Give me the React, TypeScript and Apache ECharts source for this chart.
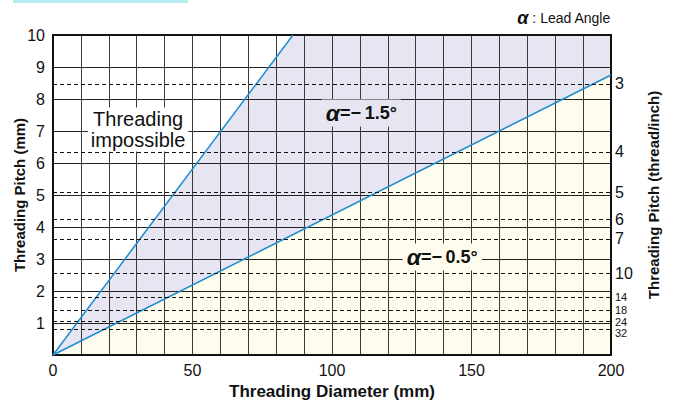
import React, { useEffect, useRef } from "react";
import * as echarts from "echarts";

// Boundary lines (diameter mm, pitch mm)
const steepLine: [number, number][] = [[0, 0], [86, 10]]; // α = -1.5° limit
const shallowLine: [number, number][] = [[0, 0], [200, 8.75]]; // α = -0.5° limit
const possibleRegionTop: [number, number][] = [[0, 0], [86, 10], [200, 10]];

// Right axis: threads per inch
const tpiLabels = [3, 4, 5, 6, 7, 10, 14, 18, 24, 32];
const tpiPitchMm = tpiLabels.map((n) => 25.4 / n);

const xTickLabels = [0, 50, 100, 150, 200];
const yTickLabels = [1, 2, 3, 4, 5, 6, 7, 8, 9, 10];

// annotation anchors (data coordinates)
const annImpossible: [number, number] = [30.5, 7.05];
const annAlpha15: [number, number] = [110.5, 7.56];
const annAlpha05: [number, number] = [139.5, 3.06];

const FONT = "'Liberation Sans', Arial, sans-serif";
const LAVENDER = "#e7e5f1";
const CREAM = "#fefcec";
const BLUE = "#1a8cd0";

export default function App() {
  const ref = useRef<HTMLDivElement>(null);
  useEffect(() => {
    if (!ref.current) return;
    const chart = echarts.init(ref.current, undefined, { renderer: "svg" });
    const axisBase = {
      type: "value" as const,
      min: 0,
      z: 3,
    };
    const alphaRich = {
      a: { fontSize: 23, fontStyle: "italic", fontWeight: "bold", color: "#111", fontFamily: FONT },
      t: { fontSize: 18, fontWeight: "bold", color: "#111", fontFamily: FONT },
    };
    chart.setOption({
      animation: false,
      textStyle: { fontFamily: FONT },
      grid: {
        left: 53,
        right: 62,
        top: 35,
        bottom: 48,
        containLabel: false,
        outerBoundsMode: "none",
      },
      graphic: [
        {
          type: "rect",
          shape: { x: 13, y: 0, width: 175, height: 3 },
          style: { fill: "#b4ecef" },
        },
        {
          type: "text",
          right: 62,
          top: 9,
          style: {
            text: "{a|α}{b| : Lead Angle}",
            fill: "#111",
            rich: {
              a: { fontSize: 18, fontStyle: "italic", fontWeight: "bold", fontFamily: FONT, fill: "#111" },
              b: { fontSize: 14, fontFamily: FONT, fill: "#111" },
            },
          },
        },
      ],
      xAxis: [
        {
          ...axisBase,
          max: 200,
          interval: 10,
          position: "bottom",
          name: "Threading Diameter (mm)",
          nameLocation: "middle",
          nameGap: 27,
          nameTextStyle: { fontSize: 17, fontWeight: "bold", color: "#111", fontFamily: FONT },
          axisLine: { show: true, lineStyle: { color: "#111", width: 2 } },
          axisTick: { show: false },
          axisLabel: {
            margin: 7,
            fontSize: 16,
            color: "#111",
            fontFamily: FONT,
            formatter: (v: number) => (xTickLabels.includes(v) ? String(v) : ""),
          },
          splitLine: { show: true, lineStyle: { color: "#3a3a3a", width: 1 } },
        },
        {
          ...axisBase,
          max: 200,
          interval: 10,
          position: "top",
          axisLine: { show: true, onZero: false, lineStyle: { color: "#111", width: 2 } },
          axisTick: { show: false },
          axisLabel: { show: false },
          splitLine: { show: false },
        },
      ],
      yAxis: [
        {
          ...axisBase,
          max: 10,
          interval: 1,
          position: "left",
          name: "Threading Pitch (mm)",
          nameLocation: "middle",
          nameGap: 26,
          nameMoveOverlap: false,
          nameTextStyle: { fontSize: 15, fontWeight: "bold", color: "#111", fontFamily: FONT },
          axisLine: { show: true, lineStyle: { color: "#111", width: 2 } },
          axisTick: { show: false },
          axisLabel: {
            margin: 8,
            fontSize: 16,
            color: "#111",
            fontFamily: FONT,
            formatter: (v: number) => (yTickLabels.includes(v) ? String(v) : ""),
          },
          splitLine: { show: true, lineStyle: { color: "#222", width: 1 } },
        },
        {
          ...axisBase,
          max: 10,
          interval: 1,
          position: "right",
          name: "Threading Pitch (thread/inch)",
          nameLocation: "middle",
          nameGap: 35,
          nameMoveOverlap: false,
          nameTextStyle: { fontSize: 15, fontWeight: "bold", color: "#111", fontFamily: FONT },
          axisLine: { show: true, onZero: false, lineStyle: { color: "#111", width: 2 } },
          axisTick: { show: false },
          splitLine: { show: false },
          axisLabel: { show: false },
        },
      ],
      series: [
        {
          type: "line",
          data: possibleRegionTop,
          symbol: "none",
          lineStyle: { width: 0 },
          areaStyle: { color: LAVENDER, opacity: 1, origin: "start" },
          z: 1,
          silent: true,
        },
        {
          type: "line",
          data: shallowLine,
          symbol: "none",
          lineStyle: { width: 0 },
          areaStyle: { color: CREAM, opacity: 1, origin: "start" },
          z: 1.5,
          silent: true,
        },
        {
          type: "line",
          data: [],
          z: 3.5,
          silent: true,
          markLine: {
            silent: true,
            symbol: "none",
            lineStyle: { color: "#111", type: [4, 3], width: 1 },
            data: tpiPitchMm.map((p, i) => {
              const n = tpiLabels[i];
              const small = n >= 14;
              return {
                yAxis: p,
                label: {
                  show: true,
                  position: "end",
                  distance: 4,
                  formatter: String(n),
                  fontSize: small ? 11 : 16,
                  lineHeight: small ? 11 : 18,
                  color: "#111",
                  fontFamily: FONT,
                  offset: n === 32 ? [0, 3] : n === 24 ? [0, 1] : [0, 0],
                },
              };
            }),
          },
        },
        {
          type: "line",
          data: steepLine,
          symbol: "none",
          lineStyle: { color: BLUE, width: 1.5 },
          z: 4,
        },
        {
          type: "line",
          data: shallowLine,
          symbol: "none",
          lineStyle: { color: BLUE, width: 1.5 },
          z: 4,
        },
        {
          type: "scatter",
          z: 6,
          symbolSize: 0,
          silent: true,
          data: [],
          markPoint: {
            symbol: "rect",
            symbolSize: 0,
            silent: true,
            data: [
              {
                coord: annImpossible,
                label: {
                  show: true,
                  position: "inside",
                  formatter: "Threading\nimpossible",
                  fontSize: 20,
                  lineHeight: 21,
                  color: "#111",
                  fontFamily: FONT,
                  backgroundColor: "#ffffff",
                  padding: [1, 3, 1, 3],
                  align: "center",
                },
              },
              {
                coord: annAlpha15,
                label: {
                  show: true,
                  position: "inside",
                  formatter: "{a|α}{t|=\u2212\u20091.5°}",
                  backgroundColor: LAVENDER,
                  padding: [2, 4, 2, 4],
                  rich: alphaRich,
                },
              },
              {
                coord: annAlpha05,
                label: {
                  show: true,
                  position: "inside",
                  formatter: "{a|α}{t|=\u2212\u20090.5°}",
                  backgroundColor: CREAM,
                  padding: [2, 4, 2, 4],
                  rich: alphaRich,
                },
              },
            ],
          },
        },
      ],
    });
    return () => chart.dispose();
  }, []);
  return (
    <div
      ref={ref}
      style={{ position: "absolute", left: 0, top: 0, width: 673, height: 403 }}
    />
  );
}
